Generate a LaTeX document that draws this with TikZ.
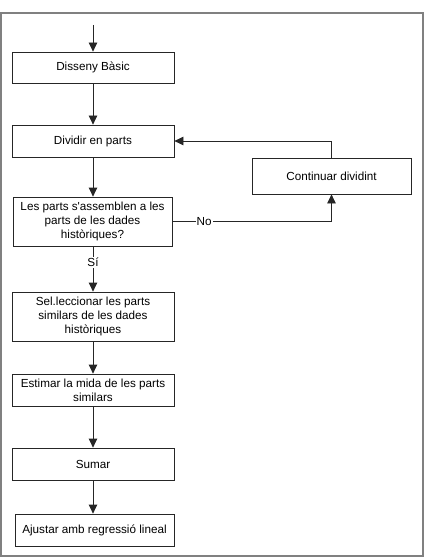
\documentclass[tikz,border=0pt]{standalone}
\usepackage{fontspec}
\setmainfont{Liberation Sans}
\usetikzlibrary{arrows.meta}
\begin{document}
\begin{tikzpicture}[x=1pt,y=-1pt,
  box/.style={draw=black!85,line width=0.8pt,inner sep=1pt,align=center,
    font=\fontsize{11.7}{14}\selectfont},
  arr/.style={draw=black!85,line width=0.8pt,-{Triangle[width=8.5pt,length=9pt]}},
  lbl/.style={fill=white,inner sep=1pt,font=\fontsize{11.7}{14}\selectfont}]
\useasboundingbox (0,0) rectangle (428,559);
\draw[black!50,line width=1.2pt] (1,13) rectangle (423,556);
\coordinate (start) at (93,25);
\node[box,minimum width=162pt,minimum height=31pt] (dis) at (93,67.5) {Disseny Bàsic};
\node[box,minimum width=162pt,minimum height=32pt] (div) at (93,141) {Dividir en parts};
\node[box,minimum width=159pt,minimum height=49pt] (les) at (92.5,221.5) {Les parts s\textquotesingle assemblen a les\\parts de les dades\\històriques?};
\node[box,minimum width=159pt,minimum height=36pt] (cont) at (331.5,176) {Continuar dividint};
\node[box,minimum width=162pt,minimum height=49pt] (sel) at (93,316.5) {Sel.leccionar les parts\\similars de les dades\\històriques};
\node[box,minimum width=162pt,minimum height=32pt] (est) at (93,390) {Estimar la mida de les parts\\similars};
\node[box,minimum width=162pt,minimum height=32pt] (sum) at (93,464) {Sumar};
\node[box,minimum width=159pt,minimum height=32pt] (aju) at (94.5,530) {Ajustar amb regressió lineal};
\draw[arr] (start) -- (dis.north);
\draw[arr] (dis.south) -- (div.north);
\draw[arr] (div.south) -- (les.north -| div.south);
\draw[arr] (les.south -| div.south) -- node[lbl,pos=0.35]{Sí} (sel.north);
\draw[arr] (sel.south) -- (est.north);
\draw[arr] (est.south) -- (sum.north);
\draw[arr] (sum.south) -- (aju.north -| sum.south);
\draw[arr] (les.east) -- node[lbl,pos=0.2]{No} (les.east -| cont.south) -- (cont.south);
\draw[arr] (cont.north) |- (div.east);
\end{tikzpicture}
\end{document}
